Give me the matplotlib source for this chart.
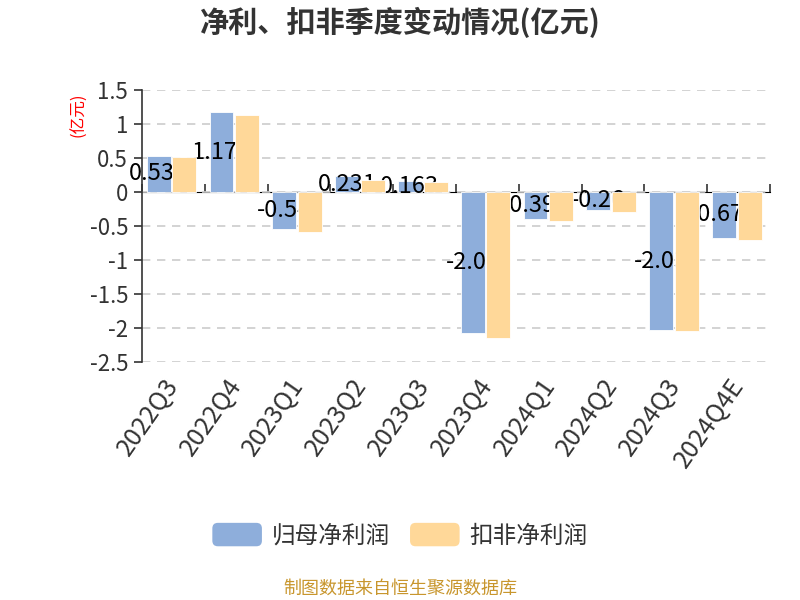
import matplotlib
matplotlib.use("Agg")
import matplotlib.pyplot as plt
import numpy as np
from matplotlib.patches import Patch, FancyBboxPatch
from matplotlib.legend_handler import HandlerPatch

plt.rcParams['font.family'] = ['Noto Sans CJK SC', 'DejaVu Sans']
plt.rcParams['axes.unicode_minus'] = False

# data
quarters = ['2022Q3', '2022Q4', '2023Q1', '2023Q2', '2023Q3',
            '2023Q4', '2024Q1', '2024Q2', '2024Q3', '2024Q4E']
net_profit = [0.532, 1.175, -0.54, 0.231, 0.163, -2.08, -0.392, -0.26, -2.03, -0.672]
net_profit_labels = ['0.532', '1.175', '-0.54', '0.231', '0.163',
                     '-2.08', '-0.392', '-0.26', '-2.03', '-0.672']
deducted_profit = [0.51, 1.13, -0.59, 0.18, 0.14, -2.15, -0.42, -0.30, -2.04, -0.70]
y_ticks = [1.5, 1, 0.5, 0, -0.5, -1, -1.5, -2, -2.5]
y_tick_labels = ['1.5', '1', '0.5', '0', '-0.5', '-1', '-1.5', '-2', '-2.5']

blue = '#8EAEDB'
orange = '#FFD899'
dark = '#333333'

fig = plt.figure(figsize=(8, 6), dpi=100)
ax = fig.add_axes([0.1775, 0.3967, 0.785, 0.4533])

x = np.arange(len(quarters))
w = 0.38
off = 0.205
shift = -0.03
ax.bar(x - off + shift, net_profit, w, color=blue, edgecolor='white', linewidth=0.6, zorder=2)
# value labels sit under the second series, as in the original
for xi, v, lab in zip(x, net_profit, net_profit_labels):
    ax.text(xi - off + shift, v / 2, lab, ha='center', va='center', fontsize=17,
            color='black', zorder=2.5)
ax.bar(x + off + shift, deducted_profit, w, color=orange, edgecolor='white', linewidth=0.6, zorder=3)

ax.set_xlim(-0.5, len(quarters) - 0.5)
ax.set_ylim(-2.5, 1.5)
ax.set_yticks(y_ticks)
ax.set_yticklabels(y_tick_labels, fontsize=16, color=dark)
ax.tick_params(axis='y', length=6, width=1.2, color=dark, pad=4)
ax.yaxis.grid(True, linestyle=(0, (5, 4)), color='#CCCCCC', linewidth=1.2, zorder=0)
ax.set_axisbelow(True)

ax.set_xticks(x)
ax.set_xticklabels(quarters, rotation=55, ha='right', va='center',
                   rotation_mode='anchor', fontsize=18, color=dark)
ax.tick_params(axis='x', length=0, pad=14)

for s in ['top', 'right', 'bottom']:
    ax.spines[s].set_visible(False)
ax.spines['left'].set_color(dark)
ax.spines['left'].set_linewidth(1.2)

# category axis line at zero with boundary ticks
zero_loc = (0 - (-2.5)) / (1.5 - (-2.5))
sec = ax.secondary_xaxis(zero_loc)
sec.set_xticks(np.arange(len(quarters) + 1) - 0.5)
sec.set_xticklabels([])
sec.tick_params(direction='out', length=6, width=1.2, color=dark)
sec.spines['bottom'].set_color(dark)
sec.spines['bottom'].set_linewidth(1.2)

fig.text(0.5, 0.963, '净利、扣非季度变动情况(亿元)', ha='center', va='center',
         fontsize=21, fontweight='bold', color=dark)
fig.text(0.099, 1 - 115 / 600, '(亿元)', ha='center', va='center', rotation=90,
         fontsize=12, color='red')


def rounded_handle(legend, orig_handle, xdescent, ydescent, width, height, fontsize):
    return FancyBboxPatch((-xdescent, -ydescent), width, height,
                          boxstyle='round,pad=0,rounding_size=4')


handles = [Patch(facecolor=blue, edgecolor='none', label='归母净利润'),
           Patch(facecolor=orange, edgecolor='none', label='扣非净利润')]
leg = fig.legend(handles=handles, loc='center', bbox_to_anchor=(0.5, 0.108), ncol=2,
                 frameon=False, fontsize=17, handlelength=2.1, handleheight=1.15,
                 handletextpad=0.42, columnspacing=0.85,
                 handler_map={Patch: HandlerPatch(patch_func=rounded_handle)})
for t in leg.get_texts():
    t.set_color(dark)

fig.text(0.5, 1 - 589 / 600, '制图数据来自恒生聚源数据库', ha='center', va='center',
         fontsize=13, color='#C8962D')

fig.savefig('out.png', dpi=100)
